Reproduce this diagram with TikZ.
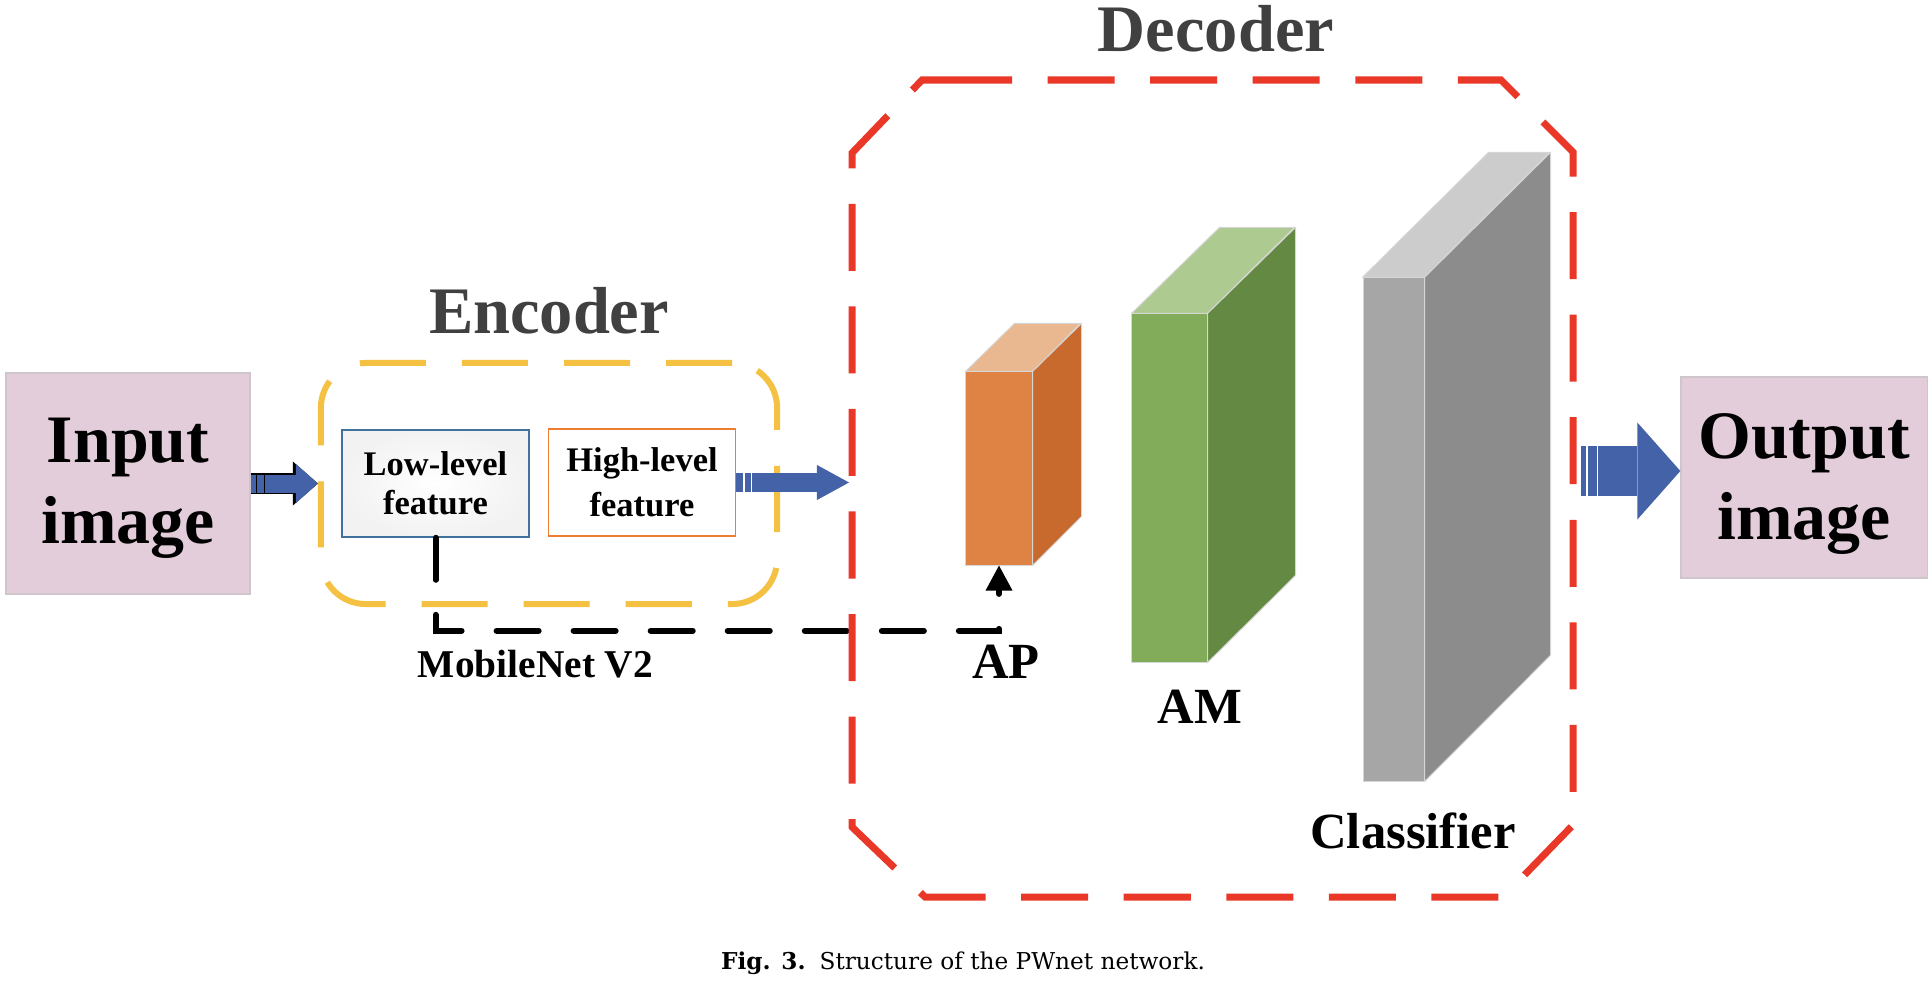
\documentclass[tikz,border=0pt]{standalone}
\usepackage{fontspec}
\setmainfont{Liberation Serif}
\newfontfamily\captionfont{DejaVu Serif}
\usetikzlibrary{arrows.meta}
\definecolor{imgpink}{RGB}{228,205,218}
\definecolor{imgedge}{RGB}{206,198,202}
\definecolor{encyellow}{RGB}{245,193,66}
\definecolor{decred}{RGB}{233,56,40}
\definecolor{lowblue}{RGB}{65,113,156}
\definecolor{highorange}{RGB}{237,125,49}
\definecolor{titlegray}{RGB}{64,64,64}
\definecolor{arrowblue}{RGB}{68,98,167}
\definecolor{blockedge}{RGB}{214,214,214}
\definecolor{apfront}{RGB}{222,131,68}
\definecolor{apside}{RGB}{200,106,46}
\definecolor{aptop}{RGB}{233,184,145}
\definecolor{amfront}{RGB}{130,172,89}
\definecolor{amside}{RGB}{100,137,66}
\definecolor{amtop}{RGB}{173,203,145}
\definecolor{clfront}{RGB}{166,166,166}
\definecolor{clside}{RGB}{140,140,140}
\definecolor{cltop}{RGB}{204,204,204}
\begin{document}
\begin{tikzpicture}[x=0.01cm, y=-0.01cm,
  imgbox/.style={draw=imgedge, fill=imgpink, line width=0.012cm, inner sep=0pt, align=center, font=\bfseries\fontsize{19.3}{23}\selectfont},
  featbox/.style={line width=0.015cm, inner sep=0pt, minimum width=1.87cm, minimum height=1.07cm, align=center},
  title/.style={text=titlegray, anchor=base, inner sep=0pt, font=\bfseries\fontsize{18.9}{22}\selectfont},
  blocklabel/.style={anchor=base, inner sep=0pt, font=\bfseries\fontsize{14.4}{17}\selectfont},
  front/.style={draw=blockedge, line width=0.01cm, inner sep=0pt},
  face/.style={draw=blockedge, line width=0.01cm, line join=round},
  fatarrow/.style={arrowblue, line cap=butt},
  skipline/.style={black, line width=0.06cm, line cap=round, dash pattern=on 0.42cm off 0.35cm, -{Triangle[length=0.25cm, width=0.27cm, line width=0pt]}}]
\useasboundingbox (0,0) rectangle (1928,988);

\node[imgbox, minimum width=2.44cm, minimum height=2.21cm, text depth=0.05cm] (input) at (128,483.5) {Input\\image};
\node[imgbox, minimum width=2.46cm, minimum height=2.01cm, text depth=0.015cm] (output) at (1804,477.5) {Output\\image};

\node[draw=encyellow, line width=0.06cm, dash pattern=on 0.66cm off 0.36cm, rounded corners=0.45cm, minimum width=4.56cm, minimum height=2.41cm, inner sep=0pt] (encoder) at (549,483.5) {};
\node[title] (enctitle) at (549,333) {Encoder};
\node[featbox, draw=lowblue, inner color=white, outer color=black!5, font=\bfseries\fontsize{9.8}{11.1}\selectfont] (low) at (435.5,483.5) {Low-level\\feature};
\node[featbox, draw=highorange, fill=white, font=\bfseries\fontsize{9.8}{12.8}\selectfont] (high) at (642,482.5) {High-level\\feature};
\node[anchor=base, inner sep=0pt, font=\bfseries\fontsize{11.2}{13}\selectfont] (mobilenet) at (535.5,677) {MobileNet V2};

\node[front, fill=apfront, minimum width=0.66cm, minimum height=1.93cm] (ap) at (999,468.5) {};
\draw[face, fill=aptop] (ap.north west) -- ++(49,-48) -- ++(66,0) -- (ap.north east) -- cycle;
\draw[face, fill=apside] (ap.north east) -- ++(49,-48) -- ++(0,193) -- (ap.south east) -- cycle;
\node[blocklabel] (aplabel) at (1006,678) {AP};

\node[front, fill=amfront, minimum width=0.75cm, minimum height=3.48cm] (am) at (1169.5,488) {};
\draw[face, fill=amtop] (am.north west) -- ++(88,-86) -- ++(75,0) -- (am.north east) -- cycle;
\draw[face, fill=amside] (am.north east) -- ++(88,-86) -- ++(0,348) -- (am.south east) -- cycle;
\node[blocklabel] (amlabel) at (1200,723) {AM};

\node[front, fill=clfront, minimum width=0.61cm, minimum height=5.03cm] (cls) at (1393.5,529.5) {};
\draw[face, fill=cltop] (cls.north west) -- ++(126,-125) -- ++(61,0) -- (cls.north east) -- cycle;
\draw[face, fill=clside] (cls.north east) -- ++(126,-125) -- ++(0,503) -- (cls.south east) -- cycle;
\node[blocklabel] (clslabel) at (1413,848) {Classifier};

\draw[skipline] (low.south) -- ++(0,93) -| (ap.south);

\draw[decred, line width=0.07cm, dash pattern=on 0.67cm off 0.355cm] (945,80) -- (1501,80) -- (1573,152) -- (1573,825) -- (1503,897) -- (925,897) -- (852,827) -- (852,153) -- (922,80) -- cycle;
\node[title] (dectitle) at (1216,52) {Decoder};

\coordinate (decin) at (849,482.5);
\coordinate (outstart) at (1581,471);
\draw[black, line width=0.215cm, -{Triangle[length=0.25cm, width=0.44cm, line width=0pt]}] (input.east) -- (encoder.west);
\draw[fatarrow, line width=0.18cm, dash pattern=on 0.055cm off 0.012cm on 0.065cm off 0.012cm on 2cm, -{Triangle[length=0.22cm, width=0.39cm, line width=0pt]}] (input.east) -- (encoder.west);
\draw[fatarrow, line width=0.19cm, dash pattern=on 0.07cm off 0.02cm on 0.055cm off 0.01cm on 2cm, -{Triangle[length=0.32cm, width=0.35cm, line width=0pt]}] (high.east) -- (decin);
\draw[fatarrow, line width=0.5cm, dash pattern=on 0.05cm off 0.02cm on 0.085cm off 0.015cm on 2cm, -{Triangle[length=0.43cm, width=0.97cm, line width=0pt]}] (outstart) -- (outstart -| output.west);

\node[anchor=base, inner sep=0pt, font=\captionfont\fontsize{6.6}{8}\selectfont] (caption) at (963,969) {\textbf{Fig. 3.}\hspace{0.6em}Structure of the PWnet network.};
\end{tikzpicture}
\end{document}
